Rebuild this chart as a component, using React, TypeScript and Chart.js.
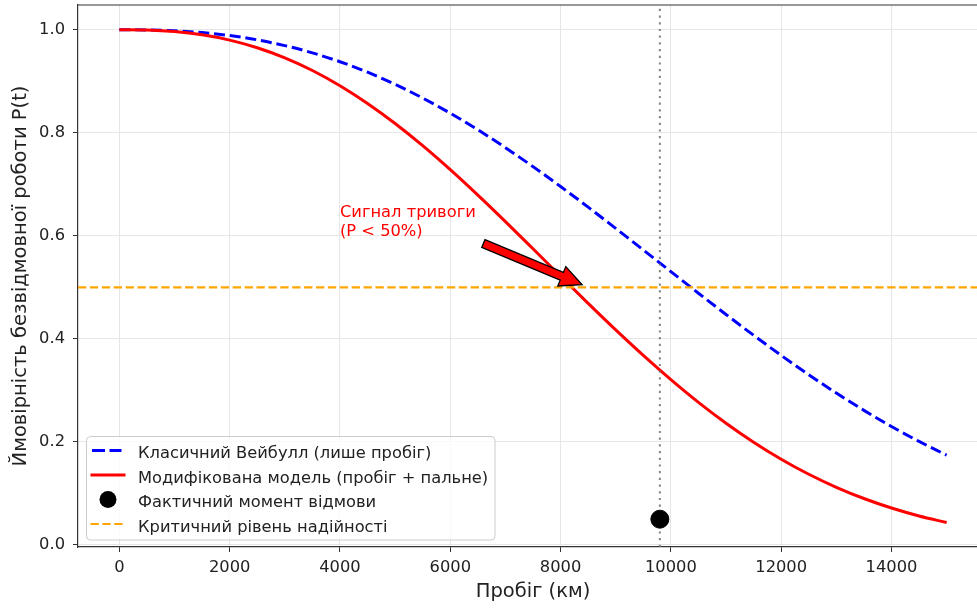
import React, { useEffect, useRef } from "react";
import { Chart, registerables } from "chart.js";

Chart.register(...registerables);

const FONT = "'DejaVu Sans', 'Noto Sans', sans-serif";
const SMALL = 16.3;
const LARGE = 19.5;

// Mileage grid (km)
const mileage = [
  0, 500, 1000, 1500, 2000, 2500, 3000, 3500, 4000, 4500, 5000, 5500, 6000, 6500, 7000, 7500,
  8000, 8500, 9000, 9500, 10000, 10500, 11000, 11500, 12000, 12500, 13000, 13500, 14000, 14500, 15000,
];
// Classic Weibull (mileage only)
const classicWeibull = [
  1.0, 0.9996, 0.998, 0.9945, 0.9887, 0.9804, 0.9692, 0.9551, 0.9379, 0.9175, 0.894, 0.8674,
  0.838, 0.8058, 0.7711, 0.7343, 0.6957, 0.6557, 0.6144, 0.5725, 0.5305, 0.4886, 0.4473, 0.407,
  0.3679, 0.3304, 0.2948, 0.2612, 0.2299, 0.2009, 0.1743,
];
// Modified model (mileage + fuel)
const modifiedModel = [
  1.0, 0.9994, 0.9964, 0.9901, 0.9799, 0.9651, 0.9455, 0.9209, 0.8913, 0.8569, 0.8179, 0.7749,
  0.7283, 0.6789, 0.6275, 0.5748, 0.5216, 0.4689, 0.4174, 0.3679, 0.3209, 0.2768, 0.2363, 0.1994,
  0.1664, 0.1372, 0.1119, 0.0901, 0.0716, 0.0562, 0.0436,
];
// Actual failure moment
const failureMileage = [9800];
const failureMarker = [0.05];
// Critical reliability level
const criticalLevel = [0.5];

const xTicks = [0, 2000, 4000, 6000, 8000, 10000, 12000, 14000];
const yTicks = [0.0, 0.2, 0.4, 0.6, 0.8, 1.0];
const xLimits = [-750, 15750];
const yLimits = [-0.004, 1.048];

const alarmText = ["Сигнал тривоги", "(P < 50%)"];
const alarmTextAt = [4000, 0.6];
const arrowFrom = [6600, 0.585];
const arrowTo = [8390, 0.505];

const legendLabels = [
  "Класичний Вейбулл (лише пробіг)",
  "Модифікована модель (пробіг + пальне)",
  "Фактичний момент відмови",
  "Критичний рівень надійності",
];

const overlayPlugin = {
  id: "overlay",
  afterDatasetsDraw(chart: any) {
    const { ctx, chartArea: a, scales } = chart;
    const x = scales.x;
    const y = scales.y;
    ctx.save();

    // top spine
    ctx.strokeStyle = "#333";
    ctx.lineWidth = 1.2;
    ctx.beginPath();
    ctx.moveTo(a.left, a.top);
    ctx.lineTo(a.right, a.top);
    ctx.stroke();

    // arrow
    const tx = x.getPixelForValue(arrowFrom[0]);
    const ty = y.getPixelForValue(arrowFrom[1]);
    const hx = x.getPixelForValue(arrowTo[0]);
    const hy = y.getPixelForValue(arrowTo[1]);
    const len = Math.hypot(hx - tx, hy - ty);
    const ux = (hx - tx) / len;
    const uy = (hy - ty) / len;
    const nx = -uy;
    const ny = ux;
    const sw = 4.2;
    const hw = 10.5;
    const hl = 22;
    const bx = hx - ux * hl;
    const by = hy - uy * hl;
    ctx.beginPath();
    ctx.moveTo(tx + nx * sw, ty + ny * sw);
    ctx.lineTo(bx + nx * sw, by + ny * sw);
    ctx.lineTo(bx + nx * hw, by + ny * hw);
    ctx.lineTo(hx, hy);
    ctx.lineTo(bx - nx * hw, by - ny * hw);
    ctx.lineTo(bx - nx * sw, by - ny * sw);
    ctx.lineTo(tx - nx * sw, ty - ny * sw);
    ctx.closePath();
    ctx.fillStyle = "#ff0000";
    ctx.fill();
    ctx.strokeStyle = "#000";
    ctx.lineWidth = 1.3;
    ctx.lineJoin = "miter";
    ctx.stroke();

    // annotation text
    ctx.fillStyle = "#ff0000";
    ctx.font = `${SMALL}px ${FONT}`;
    ctx.textAlign = "left";
    ctx.textBaseline = "alphabetic";
    const px = x.getPixelForValue(alarmTextAt[0]);
    const py = y.getPixelForValue(alarmTextAt[1]);
    ctx.fillText(alarmText[0], px, py - 18.7);
    ctx.fillText(alarmText[1], px, py);

    // legend
    const lw = 408.5;
    const lh = 103.5;
    const lx = a.left + 8.5;
    const ly = a.bottom - 7 - lh;
    const r = 4;
    ctx.beginPath();
    ctx.moveTo(lx + r, ly);
    ctx.lineTo(lx + lw - r, ly);
    ctx.quadraticCurveTo(lx + lw, ly, lx + lw, ly + r);
    ctx.lineTo(lx + lw, ly + lh - r);
    ctx.quadraticCurveTo(lx + lw, ly + lh, lx + lw - r, ly + lh);
    ctx.lineTo(lx + r, ly + lh);
    ctx.quadraticCurveTo(lx, ly + lh, lx, ly + lh - r);
    ctx.lineTo(lx, ly + r);
    ctx.quadraticCurveTo(lx, ly, lx + r, ly);
    ctx.closePath();
    ctx.fillStyle = "rgba(255,255,255,0.8)";
    ctx.fill();
    ctx.strokeStyle = "#cccccc";
    ctx.lineWidth = 1;
    ctx.stroke();

    const baseY = ly + 21.5;
    const step = 24.5;
    const hx0 = lx + 4;
    const hx1 = lx + 39;
    for (let i = 0; i < legendLabels.length; i++) {
      const by0 = baseY + i * step;
      const cy = by0 - 7.5;
      ctx.save();
      if (i === 0) {
        ctx.strokeStyle = "#0000ff";
        ctx.lineWidth = 3;
        ctx.setLineDash([13, 4.5]);
        ctx.beginPath();
        ctx.moveTo(hx0 + 1.5, cy);
        ctx.lineTo(hx1 - 4, cy);
        ctx.stroke();
      } else if (i === 1) {
        ctx.strokeStyle = "#ff0000";
        ctx.lineWidth = 3;
        ctx.beginPath();
        ctx.moveTo(hx0, cy);
        ctx.lineTo(hx1, cy);
        ctx.stroke();
      } else if (i === 2) {
        ctx.fillStyle = "#000";
        ctx.beginPath();
        ctx.arc((hx0 + hx1) / 2, cy, 8.5, 0, Math.PI * 2);
        ctx.fill();
      } else {
        ctx.strokeStyle = "#ffa500";
        ctx.lineWidth = 2.2;
        ctx.setLineDash([8.3, 3.6]);
        ctx.beginPath();
        ctx.moveTo(hx0, cy);
        ctx.lineTo(hx1, cy);
        ctx.stroke();
      }
      ctx.restore();
      ctx.fillStyle = "#222";
      ctx.font = `${SMALL}px ${FONT}`;
      ctx.textAlign = "left";
      ctx.textBaseline = "alphabetic";
      ctx.fillText(legendLabels[i], lx + 51.5, by0);
    }

    ctx.restore();
  },
};

export default function App() {
  const ref = useRef<HTMLCanvasElement | null>(null);

  useEffect(() => {
    if (!ref.current) return;
    document.body.style.margin = "0";
    document.body.style.overflow = "hidden";
    const chart = new Chart(ref.current, {
      type: "line",
      data: {
        datasets: [
          {
            label: legendLabels[2],
            type: "scatter",
            data: failureMileage.map((m, i) => ({ x: m, y: failureMarker[i] })),
            backgroundColor: "#000",
            borderColor: "#000",
            pointRadius: 9,
            pointHoverRadius: 9,
            showLine: false,
            order: 1,
          } as any,
          {
            label: "failure-line",
            data: [
              { x: failureMileage[0], y: yLimits[0] },
              { x: failureMileage[0], y: yLimits[1] },
            ],
            borderColor: "rgba(110,110,110,0.85)",
            borderWidth: 2,
            borderDash: [2.2, 4.5],
            pointRadius: 0,
            fill: false,
            order: 2,
          },
          {
            label: legendLabels[3],
            data: [
              { x: xLimits[0], y: criticalLevel[0] },
              { x: xLimits[1], y: criticalLevel[0] },
            ],
            borderColor: "#ffa500",
            borderWidth: 2.2,
            borderDash: [8.3, 3.6],
            pointRadius: 0,
            fill: false,
            order: 3,
          },
          {
            label: legendLabels[1],
            data: mileage.map((m, i) => ({ x: m, y: modifiedModel[i] })),
            borderColor: "#ff0000",
            borderWidth: 3,
            pointRadius: 0,
            cubicInterpolationMode: "monotone",
            fill: false,
            order: 4,
          },
          {
            label: legendLabels[0],
            data: mileage.map((m, i) => ({ x: m, y: classicWeibull[i] })),
            borderColor: "#0000ff",
            borderWidth: 3,
            borderDash: [11, 4.8],
            pointRadius: 0,
            cubicInterpolationMode: "monotone",
            fill: false,
            order: 5,
          },
        ],
      },
      options: {
        animation: false,
        responsive: false,
        devicePixelRatio: 1,
        events: [],
        layout: { autoPadding: false, padding: { top: 5, right: 12, left: 0, bottom: 0 } },
        plugins: {
          legend: { display: false },
          tooltip: { enabled: false },
        },
        scales: {
          x: {
            type: "linear",
            min: xLimits[0],
            max: xLimits[1],
            afterBuildTicks: (s: any) => {
              s.ticks = xTicks.map((v) => ({ value: v }));
            },
            afterFit: (s: any) => {
              s.height = 61;
              s.paddingLeft = 0;
              s.paddingRight = 0;
            },
            ticks: {
              font: { family: FONT, size: SMALL },
              color: "#222",
              padding: 6,
              maxRotation: 0,
              autoSkip: false,
              callback: (v: any) => String(v),
            },
            grid: {
              color: "#e6e6e6",
              lineWidth: 1,
              tickLength: 5,
              tickColor: "#333",
              drawTicks: true,
            },
            border: { color: "#333", width: 1.2 },
            title: {
              display: true,
              text: "Пробіг (км)",
              font: { family: FONT, size: LARGE },
              color: "#222",
              padding: { top: 0, bottom: 4 },
            },
          },
          y: {
            type: "linear",
            min: yLimits[0],
            max: yLimits[1],
            afterBuildTicks: (s: any) => {
              s.ticks = yTicks.map((v) => ({ value: v }));
            },
            afterFit: (s: any) => {
              s.width = 78;
              s.paddingTop = 0;
              s.paddingBottom = 0;
            },
            ticks: {
              font: { family: FONT, size: SMALL },
              color: "#222",
              padding: 8,
              autoSkip: false,
              callback: (v: any) => Number(v).toFixed(1),
            },
            grid: {
              color: "#e6e6e6",
              lineWidth: 1,
              tickLength: 5,
              tickColor: "#333",
              drawTicks: true,
            },
            border: { color: "#333", width: 1.2 },
            title: {
              display: true,
              text: "Ймовірність безвідмовної роботи P(t)",
              font: { family: FONT, size: LARGE },
              color: "#222",
              padding: { top: 9, bottom: 0 },
            },
          },
        },
      },
      plugins: [overlayPlugin],
    });
    return () => chart.destroy();
  }, []);

  return (
    <div
      style={{
        position: "fixed",
        left: 0,
        top: 0,
        width: 977,
        height: 608,
        overflow: "hidden",
        background: "#fff",
      }}
    >
      <canvas ref={ref} width={1000} height={608} style={{ display: "block" }} />
    </div>
  );
}
